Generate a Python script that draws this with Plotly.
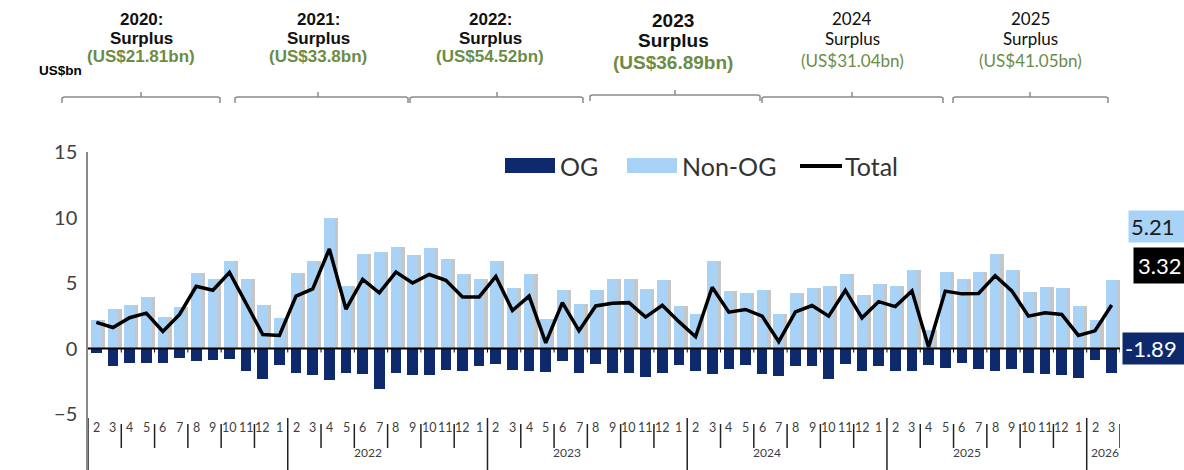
import plotly.graph_objects as go

# Monthly trade balance, US$bn
MONTH_LABELS = ["2", "3", "4", "5", "6", "7", "8", "9", "10", "11", "12", "1"] * 5 + ["2", "3"]
YEAR_LABELS = ["2022", "2023", "2024", "2025", "2026"]

NON_OG = [2.2, 3.0, 3.35, 3.9, 2.4, 3.2, 5.8, 5.3, 6.7, 5.3, 3.35, 2.35,
          5.8, 6.7, 10.0, 4.75, 7.25, 7.35, 7.75, 7.1, 7.7, 6.8, 5.65, 5.27,
          6.67, 4.63, 5.65, 2.26, 4.45, 3.36, 4.5, 5.27, 5.27, 4.55, 5.2, 3.28,
          2.6, 6.67, 4.38, 4.25, 4.45, 2.6, 4.2, 4.63, 4.8, 5.65, 4.05, 4.89,
          4.8, 6.03, 1.4, 5.83, 5.27, 5.83, 7.18, 6.03, 4.3, 4.7, 4.63, 3.23,
          2.21, 5.21]
OG = [-0.33, -1.30, -1.10, -1.10, -1.10, -0.70, -0.97, -0.90, -0.80, -1.73, -2.30, -1.27,
      -1.90, -2.06, -2.37, -1.86, -1.98, -3.08, -1.90, -2.00, -2.06, -1.65, -1.73, -1.35,
      -1.17, -1.65, -1.68, -1.80, -0.97, -1.86, -1.22, -1.86, -1.86, -2.19, -1.86, -1.27,
      -1.73, -1.98, -1.60, -1.27, -1.98, -2.11, -1.35, -1.35, -2.32, -1.22, -1.73, -1.35,
      -1.73, -1.73, -1.27, -1.48, -1.10, -1.55, -1.68, -1.60, -1.86, -1.93, -2.06, -2.24,
      -0.84, -1.89]
TOTAL = [2.0, 1.6, 2.35, 2.7, 1.3, 2.6, 4.75, 4.45, 5.8, 3.5, 1.07, 1.0,
         4.0, 4.55, 7.6, 3.0, 5.27, 4.25, 5.83, 5.0, 5.65, 5.2, 3.94, 3.94,
         5.5, 2.9, 4.0, 0.43, 3.5, 1.35, 3.25, 3.45, 3.5, 2.4, 3.3, 2.05,
         0.9, 4.68, 2.77, 2.98, 2.47, 0.52, 2.8, 3.28, 2.47, 4.45, 2.34, 3.58,
         3.2, 4.4, 0.12, 4.38, 4.17, 4.2, 5.55, 4.4, 2.47, 2.72, 2.6, 1.0,
         1.35, 3.32]

# Annual balance headers
HEAD_YEARS = ["2020:", "2021:", "2022:", "2023", "2024", "2025"]
HEAD_STATUS = ["Surplus"] * 6
HEAD_AMOUNTS = ["(US$21.81bn)", "(US$33.8bn)", "(US$54.52bn)",
                "(US$36.89bn)", "(US$31.04bn)", "(US$41.05bn)"]

LATEST_NON_OG = "5.21"
LATEST_TOTAL = "3.32"
LATEST_OG = "-1.89"

# ---- styling / layout constants ----
C_NON_OG = "#A8D2F6"
C_OG = "#0E2A6C"
C_GREEN = "#6B8C45"
C_TEXT = "#404040"
FONT = "Lato"
HEAD_FONT = "Liberation Sans, Arial, sans-serif"

W, H = 1184, 470
PL, PR, PT, PB = 88, 1120, 152, 470
PX_PER_UNIT = 13.1
Y_TOP = 15
Y_BOTTOM = Y_TOP - (PB - PT) / PX_PER_UNIT

n = len(NON_OG)
idx = list(range(n))


def fx(px):
    return (px - PL) / (PR - PL)


def fy(py):
    return (PB - py) / (PB - PT)


fig = go.Figure()

BAR_W = 0.64
# soft drop shadow behind the Non-OG bars
fig.add_trace(go.Bar(x=idx, y=NON_OG, width=BAR_W, offset=-BAR_W / 2 + 0.2,
                     marker=dict(color="rgba(120,120,120,0.42)", line=dict(width=0)),
                     hoverinfo="skip", showlegend=False))
fig.add_trace(go.Bar(x=idx, y=NON_OG, width=BAR_W, offset=-BAR_W / 2, name="Non-OG",
                     marker=dict(color=C_NON_OG, line=dict(width=0)), showlegend=False))
fig.add_trace(go.Bar(x=idx, y=OG, width=BAR_W, offset=-BAR_W / 2, name="OG",
                     marker=dict(color=C_OG, line=dict(width=0)), showlegend=False))
fig.add_trace(go.Scatter(x=idx, y=TOTAL, mode="lines", name="Total",
                         line=dict(color="black", width=3.5), showlegend=False))

shapes = []
# zero line with tick marks every two months
shapes.append(dict(type="line", xref="x", yref="y", x0=-0.5, x1=n - 0.5, y0=0, y1=0,
                   line=dict(color="black", width=2), layer="above"))
for b in range(1, n, 2):
    shapes.append(dict(type="line", xref="x", yref="y", x0=b + 0.5, x1=b + 0.5,
                       y0=0, y1=-4 / PX_PER_UNIT, line=dict(color="black", width=1)))

# category axis dividers: short between month pairs, long between years
year_bounds = [-0.5] + [11.5 + 12 * k for k in range(5)]
for b in range(1, n, 2):
    xb = b + 0.5
    if xb in year_bounds:
        continue
    shapes.append(dict(type="line", xref="x", yref="paper", x0=xb, x1=xb,
                       y0=fy(448), y1=fy(424), line=dict(color="#222222", width=1.5)))
for xb in year_bounds:
    shapes.append(dict(type="line", xref="x", yref="paper", x0=xb, x1=xb,
                       y0=fy(470), y1=fy(418), line=dict(color="#222222", width=1.5)))

annotations = []
for i, lab in enumerate(MONTH_LABELS):
    annotations.append(dict(x=i, y=fy(437), xref="x", yref="paper", text=lab,
                            showarrow=False, font=dict(family=FONT, size=12.5, color=C_TEXT)))
for k, lab in enumerate(YEAR_LABELS):
    start = 12 + 12 * k
    count = min(12, n - start)
    xc = start + (count - 1) / 2 + (-1.2 if count == 12 else 0.1)
    annotations.append(dict(x=xc, y=fy(462), xref="x", yref="paper", text=lab,
                            showarrow=False, font=dict(family=FONT, size=12, color=C_TEXT)))

# custom legend
leg_y0, leg_y1 = fy(173), fy(158)
shapes.append(dict(type="rect", xref="paper", yref="paper", x0=fx(505), x1=fx(555),
                   y0=leg_y0, y1=leg_y1, fillcolor=C_OG, line=dict(width=0)))
shapes.append(dict(type="rect", xref="paper", yref="paper", x0=fx(627), x1=fx(677),
                   y0=leg_y0, y1=leg_y1, fillcolor=C_NON_OG, line=dict(width=0)))
shapes.append(dict(type="line", xref="paper", yref="paper", x0=fx(800), x1=fx(842),
                   y0=fy(166), y1=fy(166), line=dict(color="black", width=4)))
for px, txt in [(558, "OG"), (680, "Non-OG"), (843, "Total")]:
    annotations.append(dict(x=fx(px), y=fy(166), xref="paper", yref="paper", text=txt,
                            xanchor="left", yanchor="middle", showarrow=False,
                            font=dict(family=FONT, size=25, color="#333333")))

# latest-value callouts on the right
callouts = [
    (LATEST_NON_OG, 1128, 226, C_NON_OG, "#1a1a1a", 2),
    (LATEST_TOTAL, 1133, 265, "black", "white", 4),
    (LATEST_OG, 1122, 348, C_OG, "white", 2),
]
for txt, px, py, bg, fg, pad in callouts:
    annotations.append(dict(x=fx(px), y=fy(py), xref="paper", yref="paper", text=txt,
                            xanchor="left", yanchor="middle", showarrow=False, align="left",
                            width=64, bgcolor=bg, borderpad=pad,
                            font=dict(family=FONT, size=22, color=fg)))

# unit label
annotations.append(dict(x=fx(37), y=fy(70), xref="paper", yref="paper", text="US$bn",
                        xanchor="left", yanchor="middle", showarrow=False,
                        font=dict(family=HEAD_FONT, size=13.5, color="black", weight="bold")))

# annual balance headers with brackets
head_cx = [141, 318, 490, 673, 852, 1030]
head_styles = (
    [dict(family=HEAD_FONT, size=17, weight="bold", ys=(19, 38, 57))] * 3
    + [dict(family=HEAD_FONT, size=19, weight="bold", ys=(20, 41, 62))]
    + [dict(family=FONT, size=17, weight="normal", ys=(18, 39, 60))] * 2
)
for cx, yr, st, amt, sty in zip(head_cx, HEAD_YEARS, HEAD_STATUS, HEAD_AMOUNTS, head_styles):
    for txt, py, col in zip((yr, st, amt), sty["ys"], ("#111111", "#111111", C_GREEN)):
        annotations.append(dict(x=fx(cx), y=fy(py), xref="paper", yref="paper", text=txt,
                                xanchor="center", yanchor="middle", showarrow=False,
                                font=dict(family=sty["family"], size=sty["size"],
                                          weight=sty["weight"], color=col)))

brackets = [(62, 220, 141, 97), (235, 408, 318, 97), (410, 583, 497, 97),
            (590, 760, 675, 95), (762, 943, 852, 97), (953, 1108, 1030, 97)]
for x0, x1, xc, yb in brackets:
    path = (f"M {fx(x0)},{fy(yb + 6)} L {fx(x0)},{fy(yb + 1)} L {fx(x0 + 2)},{fy(yb)} "
            f"L {fx(x1 - 2)},{fy(yb)} L {fx(x1)},{fy(yb + 1)} L {fx(x1)},{fy(yb + 6)} "
            f"M {fx(xc)},{fy(yb)} L {fx(xc)},{fy(yb - 5)}")
    shapes.append(dict(type="path", xref="paper", yref="paper", path=path,
                       line=dict(color="#8c8c8c", width=1.5)))

fig.update_layout(
    width=W, height=H, autosize=False,
    margin=dict(l=PL, r=W - PR, t=PT, b=H - PB, pad=0),
    paper_bgcolor="white", plot_bgcolor="white",
    barmode="overlay", bargap=0,
    showlegend=False,
    shapes=shapes, annotations=annotations,
    xaxis=dict(range=[-0.5, n - 0.5], visible=False, fixedrange=True),
    yaxis=dict(range=[Y_BOTTOM, Y_TOP], tickvals=[-5, 0, 5, 10, 15],
               showgrid=False, zeroline=False, showline=True,
               linecolor="#8a8a8a", linewidth=1.5, ticks="",
               ticklabelstandoff=5,
               tickfont=dict(family=FONT, size=20, color=C_TEXT), fixedrange=True),
)

fig.write_html("out.html")
